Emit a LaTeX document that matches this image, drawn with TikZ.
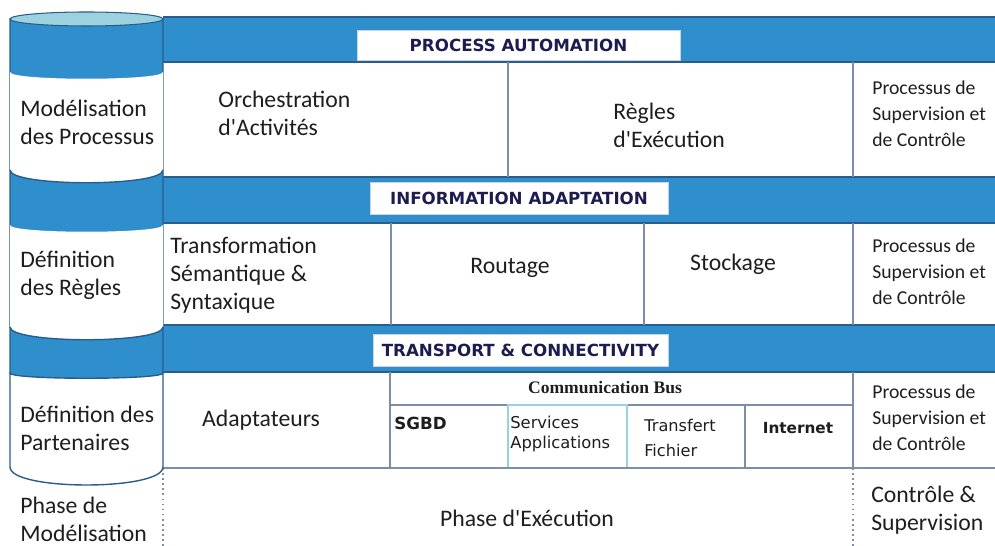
\documentclass[tikz,border=0pt]{standalone}
\usepackage{fontspec}
\setmainfont{Carlito}[Ligatures=TeXOff]
\newfontfamily\tagfont{DejaVu Sans}
\newfontfamily\busfont{Liberation Serif}
\usetikzlibrary{positioning}

\definecolor{bandblue}{HTML}{2F8FCC}
\definecolor{edgeblue}{HTML}{2A5D8C}
\definecolor{gridline}{HTML}{7C8EA6}
\definecolor{capteal}{HTML}{9CD2DF}
\definecolor{tagtext}{HTML}{1C1C50}
\definecolor{bodytext}{HTML}{1E1E1E}

\tikzset{
  band/.style={fill=bandblue},
  bandedge/.style={draw=edgeblue, line width=1.3pt},
  divider/.style={draw=gridline, line width=0.9pt},
  tag/.style={fill=white, draw=gridline!40, line width=0.4pt, inner sep=0pt,
    text=tagtext, font=\tagfont\bfseries\fontsize{9.5}{11}\selectfont},
  bigtext/.style={inner sep=0pt, align=left, text=bodytext, font=\fontsize{13.5}{16}\selectfont},
  smalltext/.style={inner sep=0pt, align=left, text=bodytext, font=\fontsize{11.2}{14.7}\selectfont},
  celltext/.style={inner sep=0pt, align=left, text=bodytext, font=\tagfont\fontsize{9}{11}\selectfont},
}

\begin{document}
\begin{tikzpicture}[x=0.02cm,y=-0.02cm]
	\useasboundingbox (0,0) rectangle (995,546);
	% blue bands of the panel
	\fill[band] (163,17) rectangle (995,62);
	\fill[band] (163,177) rectangle (995,223);
	\fill[band] (163,325) rectangle (995,372);
	\foreach \y in {17,62,177,223,325,372}
		\draw[bandedge] (163,\y) -- (995,\y);
	% cell dividers
	\draw[divider] (508,62) -- (508,177);
	\draw[divider] (853,62) -- (853,177);
	\draw[divider] (391,223) -- (391,325);
	\draw[divider] (644,223) -- (644,325);
	\draw[divider] (853,223) -- (853,325);
	\draw[divider] (390,372) -- (390,468);
	\draw[divider] (853,372) -- (853,468);
	\draw[divider] (390,405) -- (853,405);
	\foreach \x in {508,627,745}
		\draw[divider] (\x,405) -- (\x,468);
	\draw[draw=capteal, line width=0.8pt] (508,405) rectangle (627,468);
	\draw[divider] (163,468) -- (995,468);
	\draw[divider, dotted] (163,468) -- (163,546);
	\draw[divider, dotted] (853,468) -- (853,546);
	% cylinder
	\filldraw[band, draw=edgeblue, line width=0.8pt] (10,19) -- (10,373) .. controls (10,385) and (163,385) .. (163,373) -- (163,19) -- cycle;
	\fill[white] (10,72) .. controls (10,81) and (163,81) .. (163,72) -- (163,170) .. controls (163,187) and (10,187) .. (10,170) -- cycle;
	\draw[edgeblue, line width=0.8pt] (163,170) .. controls (163,187) and (10,187) .. (10,170);
	\fill[white] (10,225) .. controls (10,234) and (163,234) .. (163,225) -- (163,327) .. controls (163,344) and (10,344) .. (10,327) -- cycle;
	\draw[edgeblue, line width=0.8pt] (163,327) .. controls (163,344) and (10,344) .. (10,327);
	\filldraw[fill=white, draw=edgeblue, line width=0.8pt] (10,373) .. controls (10,380) and (163,380) .. (163,373) -- (163,467) .. controls (163,491) and (10,491) .. (10,467) -- cycle;
	\filldraw[fill=capteal, draw=edgeblue, line width=0.6pt] (86.5,19) ellipse (76.5 and 7);
	% band titles
	\node[tag, minimum width=6.46cm, minimum height=0.6cm] (automation) at (518.5,45) {PROCESS AUTOMATION};
	\node[tag, minimum width=5.96cm, minimum height=0.64cm] (adaptation) at (519,198) {INFORMATION ADAPTATION};
	\node[tag, minimum width=5.9cm, minimum height=0.64cm] (transport) at (520.5,350) {TRANSPORT \& CONNECTIVITY};
	% cylinder texts
	\node[bigtext, anchor=west] (modproc) at (20,122) {Modélisation\\des Processus};
	\node[bigtext, anchor=west] (defregles) at (20,275) {Définition\\des Règles};
	\node[bigtext, anchor=west] (defpart) at (20,428) {Définition des\\Partenaires};
	\node[bigtext, anchor=west] (phasemod) at (20,519) {Phase de\\Modélisation};
	% first row
	\node[bigtext, anchor=west] (orch) at (218,113) {Orchestration\\d'Activités};
	\node[bigtext, anchor=west] (regles) at (613,125) {Règles\\d'Exécution};
	\node[smalltext, anchor=west] (superv1) at (872,114) {Processus de\\Supervision et\\de Contrôle};
	% second row
	\node[bigtext, anchor=west] (transfo) at (170,275) {Transformation\\Sémantique \&\\Syntaxique};
	\node[bigtext] (routage) at (510,268) {Routage};
	\node[bigtext] (stockage) at (733,264) {Stockage};
	\node[smalltext, anchor=west] (superv2) at (872,272) {Processus de\\Supervision et\\de Contrôle};
	% third row
	\node[bigtext] (adapt) at (261,420) {Adaptateurs};
	\node[inner sep=0pt, text=bodytext, font=\busfont\bfseries\fontsize{10}{12}\selectfont] (bus) at (605,388) {Communication Bus};
	\node[celltext, font=\tagfont\bfseries\fontsize{9.5}{11}\selectfont, anchor=west] (sgbd) at (394,423) {SGBD};
	\node[celltext, font=\tagfont\fontsize{9.3}{11.5}\selectfont, anchor=west] (services) at (510,434) {Services\\Applications};
	\node[celltext, font=\tagfont\fontsize{9.2}{14.5}\selectfont, anchor=west] (fichier) at (644,438) {Transfert\\Fichier};
	\node[celltext, font=\tagfont\bfseries\fontsize{8.7}{10}\selectfont] (internet) at (798,428) {Internet};
	\node[smalltext, anchor=west] (superv3) at (872,418) {Processus de\\Supervision et\\de Contrôle};
	% bottom row
	\node[bigtext] (phaseexec) at (527,518) {Phase d'Exécution};
	\node[bigtext, anchor=west] (ctrl) at (871,510) {Contrôle \&\\Supervision};
\end{tikzpicture}
\end{document}
